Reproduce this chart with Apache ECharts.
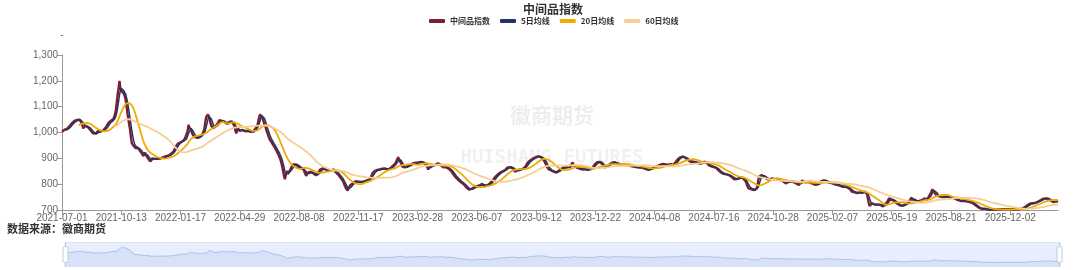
<!DOCTYPE html>
<html><head><meta charset="utf-8">
<script src="https://cdn.jsdelivr.net/npm/echarts@6/dist/echarts.min.js"></script>
<style>html,body{margin:0;padding:0;background:#fff}#c{width:1080px;height:270px}</style>
</head><body><div id="c"></div>
<script>
const chartTitle = '中间品指数';
const sourceText = '数据来源：徽商期货';
const seriesNames = ['中间品指数', '5日均线', '20日均线', '60日均线'];
const maWindows = [5, 20, 60];
const tickLabels = ['2021-07-01','2021-10-13','2022-01-17','2022-04-29','2022-08-08','2022-11-17','2023-02-28','2023-06-07','2023-09-12','2023-12-22','2024-04-08','2024-07-16','2024-10-28','2025-02-07','2025-05-19','2025-08-21','2025-12-02'];
const daysPerTick = 67;
const indexValues = [
1003,1008,1006,1011,1012,1010,1015,1016,1022,1027,
1031,1035,1040,1038,1045,1047,1044,1049,1048,1046,
1050,1047,1045,1030,1016,1020,1025,1028,1024,1022,
1018,1014,1010,1005,1000,997,993,990,996,1000,
1003,1006,1002,1005,1004,1008,1006,1010,1013,1015,
1022,1028,1035,1038,1042,1045,1044,1048,1052,1060,
1072,1090,1118,1150,1172,1200,1170,1162,1165,1158,
1150,1140,1126,1100,1074,1052,1030,1010,980,958,
952,948,945,940,944,941,939,933,930,926,
920,914,909,916,922,915,906,900,896,892,
888,895,900,904,901,898,900,896,898,899,
897,900,903,901,904,906,904,907,909,908,
910,912,913,917,920,923,926,933,940,948,
952,957,961,964,962,966,969,968,972,977,
981,984,1005,1029,1020,1014,1010,998,990,986,
982,979,977,979,983,981,984,988,991,994,
997,1015,1040,1060,1066,1070,1074,1055,1035,1025,
1020,1016,1019,1023,1026,1029,1035,1042,1048,1046,
1049,1045,1042,1044,1040,1036,1035,1033,1038,1041,
1042,1040,1043,1039,1038,1025,1008,997,1008,1016,
1010,1006,1003,1007,1010,1012,1008,1005,1004,1003,
1006,1008,1010,1003,997,1001,1004,1007,1010,1016,
1022,1029,1045,1061,1070,1077,1068,1055,1042,1030,
1022,1010,1000,990,980,972,965,962,958,950,
944,939,932,926,919,912,906,895,882,868,
850,832,819,835,848,846,850,848,855,862,
868,876,883,880,876,874,871,868,866,865,
862,860,858,857,850,840,832,838,845,846,
847,848,846,844,842,839,836,834,832,838,
845,851,857,859,860,861,858,856,857,855,
853,856,854,855,852,856,859,857,853,848,
845,842,838,833,829,825,820,815,810,800,
792,784,779,775,783,790,797,799,801,803,
806,809,812,814,812,809,811,810,808,811,
812,810,813,815,814,816,818,817,819,826,
834,842,848,850,852,853,855,856,855,857,
857,859,860,861,860,861,858,857,856,855,
858,861,865,868,871,874,878,881,888,896,
904,898,890,883,875,867,861,863,865,867,
868,870,871,873,874,876,879,881,880,882,
883,883,885,884,886,887,886,885,884,883,
880,877,874,865,857,862,867,871,874,873,
875,873,874,877,879,881,879,876,874,870,
867,865,866,864,866,865,862,860,857,855,
851,846,840,835,831,827,823,820,816,813,
810,807,805,803,801,797,792,788,784,781,
779,777,779,782,784,786,788,790,791,792,
792,793,795,797,799,801,798,795,793,794,
795,796,797,800,804,807,810,815,820,825,
829,832,836,839,842,844,846,848,850,853,
854,855,858,862,865,868,867,866,866,865,
860,854,848,850,852,853,855,856,857,856,
857,859,862,865,868,874,881,887,889,892,
894,896,898,900,902,904,905,907,908,909,
907,905,902,900,896,891,887,877,868,862,
858,855,854,853,852,850,848,847,846,845,
845,849,853,857,859,861,863,865,865,864,
865,865,866,867,866,868,876,884,878,872,
868,866,864,862,861,860,859,858,857,857,
856,858,857,856,855,855,856,858,860,861,
865,870,876,881,883,885,886,887,886,885,
883,877,870,865,866,867,868,871,874,876,
878,880,883,885,887,885,883,881,879,877,
875,874,873,875,874,874,873,875,874,874,
873,872,871,870,869,868,868,867,866,866,
865,865,864,865,865,864,863,862,861,859,
858,857,856,857,856,857,859,861,863,865,
866,868,869,870,872,874,875,877,877,878,
878,877,876,875,874,875,876,876,877,876,
875,875,874,880,887,893,896,899,902,904,
905,906,907,906,904,901,898,896,893,890,
887,886,887,888,887,886,885,884,883,882,
880,879,878,880,882,885,887,893,888,882,
877,874,872,870,869,868,867,866,864,862,
862,858,854,850,847,845,842,841,840,840,
839,838,837,836,835,833,830,828,826,822,
819,816,818,820,822,823,824,825,826,826,
822,818,814,810,801,792,784,783,782,781,
780,779,777,776,775,782,790,812,829,833,
834,835,834,832,829,826,823,820,818,816,
818,820,822,823,821,819,817,816,817,818,
819,818,817,817,816,812,809,806,803,805,
807,809,810,810,811,810,809,808,807,806,
803,801,799,797,801,806,810,814,811,808,
807,806,807,809,810,808,806,805,803,801,
799,798,797,798,799,800,801,806,811,816,
816,815,815,814,812,810,808,806,805,804,
804,803,801,800,798,797,797,798,797,795,
793,792,790,789,790,791,790,789,787,786,
784,780,775,771,770,769,768,767,767,766,
767,767,768,767,766,767,768,770,771,770,
762,745,728,716,720,723,726,724,721,720,
719,720,722,722,723,720,718,716,714,713,
718,724,728,732,739,745,743,742,740,739,
737,735,732,729,725,722,719,718,717,716,
716,717,719,721,723,725,727,730,732,740,
748,745,742,739,737,735,733,732,733,735,
735,736,738,741,743,745,744,742,741,746,
752,758,764,772,780,786,775,765,758,755,
752,752,753,752,751,750,750,749,750,751,
751,752,751,750,750,749,749,748,748,745,
743,741,739,738,737,736,735,735,736,736,
736,735,734,733,732,732,733,732,729,727,
725,723,720,718,715,713,710,708,705,703,
704,705,706,705,704,703,702,702,701,701,
701,701,702,701,701,702,702,701,702,701,
702,702,701,702,703,702,701,702,702,703,
703,704,703,703,702,701,702,701,701,702,
703,704,703,704,703,705,707,708,710,713,
715,717,719,722,724,726,727,726,725,726,
727,729,731,732,734,736,737,739,741,743,
745,746,745,746,745,743,741,738,736,734,
732,730,729,733,736,734,732
];

// category dates: each tick segment starts at its labelled date, followed by weekdays
function pad(n){return n<10?'0'+n:''+n;}
function fmt(d){return d.getUTCFullYear()+'-'+pad(d.getUTCMonth()+1)+'-'+pad(d.getUTCDate());}
const categories = [];
for (let k = 0; k < tickLabels.length; k++) {
  const count = k < tickLabels.length - 1 ? daysPerTick : indexValues.length - daysPerTick * k;
  let d = new Date(tickLabels[k] + 'T00:00:00Z');
  categories.push(tickLabels[k]);
  for (let j = 1; j < count; j++) {
    do { d = new Date(d.getTime() + 86400000); } while (d.getUTCDay() === 0 || d.getUTCDay() === 6);
    categories.push(fmt(d));
  }
}

function movingAverage(values, n) {
  return values.map((v, i) => {
    if (i < n - 1) return '-';
    let s = 0;
    for (let j = i - n + 1; j <= i; j++) s += values[j];
    return +(s / n).toFixed(2);
  });
}

const colors = ['#7E1F31', '#1F3766', '#F2A900', '#F8CD93'];
const widths = [2.4, 1.5, 1.8, 1.8];
const seriesData = [indexValues].concat(maWindows.map(n => movingAverage(indexValues, n)));

const font = '"Noto Sans CJK SC", "Noto Sans", sans-serif';
const chart = echarts.init(document.getElementById('c'), null, {renderer: 'canvas'});
chart.setOption({
  animation: false,
  backgroundColor: '#fff',
  color: colors,
  title: [
    {text: chartTitle, left: 523, top: 3, padding: 0, textStyle: {fontSize: 12, fontWeight: 'bold', color: '#333', fontFamily: font}},
    {text: sourceText, left: 7, top: 223, padding: 0, textStyle: {fontSize: 11, fontWeight: 'bold', color: '#333', fontFamily: font}}
  ],
  legend: {
    left: 429, top: 17, padding: 0, itemWidth: 16, itemHeight: 4, itemGap: 10,
    icon: 'roundRect',
    textStyle: {fontSize: 8, fontWeight: 'bold', color: '#333', fontFamily: font},
    data: seriesNames
  },
  graphic: [
    {type: 'text', x: 552, y: 115, silent: true, z: 0,
     style: {text: '徽商期货', fill: 'rgba(0,0,0,0.07)', font: 'bold 21px "Noto Sans CJK SC"', align: 'center', verticalAlign: 'middle'}},
    {type: 'text', x: 552, y: 158, silent: true, z: 0,
     style: {text: 'HUISHANG FUTURES', fill: 'rgba(0,0,0,0.06)', font: 'bold 19px "DejaVu Sans Mono"', align: 'center', verticalAlign: 'middle'}}
  ],
  grid: {left: 62, right: 22, top: 55, bottom: 60, containLabel: false},
  xAxis: {
    type: 'category', data: categories, boundaryGap: false,
    axisLine: {lineStyle: {color: '#999'}},
    axisTick: {interval: daysPerTick - 1, lineStyle: {color: '#999'}},
    axisLabel: {interval: daysPerTick - 1, fontSize: 10, color: '#666', fontFamily: 'Liberation Sans, Arial, sans-serif', margin: 3}
  },
  yAxis: {
    type: 'value', min: 700, max: 1300, interval: 100, name: '-',
    nameTextStyle: {color: '#666', fontSize: 10},
    axisLine: {show: true, lineStyle: {color: '#999'}},
    axisTick: {show: true, lineStyle: {color: '#999'}},
    splitLine: {show: false},
    axisLabel: {fontSize: 10, color: '#666', fontFamily: 'Liberation Sans, Arial, sans-serif', margin: 4}
  },
  dataZoom: [
    {type: 'inside', start: 0, end: 100},
    {type: 'slider', start: 0, end: 100, left: 62, right: 22, top: 242, height: 25, showDetail: false, brushSelect: false}
  ],
  series: seriesNames.map((name, i) => ({
    name: name, type: 'line', data: seriesData[i], showSymbol: false, symbol: 'none',
    lineStyle: {width: widths[i], color: colors[i]},
    itemStyle: {color: colors[i]},
    z: 2 + i
  }))
});
</script></body></html>
